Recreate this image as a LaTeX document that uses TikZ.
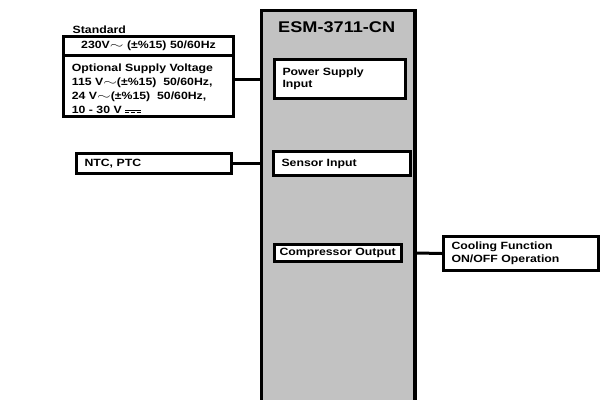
\documentclass[tikz,border=0pt]{standalone}
\usepackage{fontspec}
\usepackage{graphicx}
\setmainfont{Liberation Sans}[FakeStretch=1.17]
\definecolor{panelgray}{RGB}{194,194,194}
\newcommand{\acsign}{\scalebox{1.6}[1]{$\sim$}}
\newcommand{\dcsign}{\rlap{\rule[0.55ex]{1.5em}{0.8pt}}\rule[0.1ex]{0.4em}{0.8pt}\hspace{0.15em}\rule[0.1ex]{0.4em}{0.8pt}\hspace{0.15em}\rule[0.1ex]{0.4em}{0.8pt}}

\begin{document}
\begin{tikzpicture}[x=1pt,y=-1pt,
    box/.style={draw,line width=3pt,fill=white,align=left,inner xsep=8pt,inner ysep=0pt,
      font=\bfseries\fontsize{10.5}{12.5}\selectfont},
    txt/.style={inner sep=0pt,align=left,font=\bfseries\fontsize{10.5}{14}\selectfont},
    link/.style={line width=3pt}]
  \useasboundingbox (0,0) rectangle (604,399);
  \clip (0,0) rectangle (604,399);

  % controller body
  \node[draw,line width=3.5pt,fill=panelgray,minimum width=153.5pt,minimum height=420pt,
    anchor=north west] (esm) at (259.75,8.75) {};
  \node[anchor=base,font=\bfseries\fontsize{15.5}{18}\selectfont] (title) at (336.7,32.5) {ESM-3711-CN};

  \node[box,text width=115pt,minimum height=39pt] (supply) at (340,79) {Power Supply\\Input};
  \node[box,text width=121pt,minimum height=24pt] (sensor) at (342,163.5) {Sensor Input};
  \node[box,inner xsep=5pt,text width=117pt,minimum height=17pt] (compressor) at (338,253) {Compressor Output};

  % supply voltages
  \node[txt,anchor=base west] (stdlabel) at (72.5,33) {Standard};
  \node[box,align=center,text width=154pt,minimum height=19pt] (stdbox) at (148.5,46) {230V\acsign\ (\textpm\%15) 50/60Hz};
  \node[box,text width=154pt,minimum height=61pt] (optbox) at (148.5,86) {};
  \node[txt,anchor=north west] (optlines) at (71.7,64) {Optional Supply Voltage\\
    115 V\acsign(\textpm\%15)\ \ 50/60Hz,\\
    24 V\acsign(\textpm\%15)\ \ 50/60Hz,\\
    10 - 30 V \dcsign};

  % sensor and output
  \node[box,text width=139pt,minimum height=20pt] (ntc) at (154,163.5) {NTC, PTC};
  \node[box,text width=139pt,minimum height=34pt] (cooling) at (521,253.5) {Cooling Function\\ON/OFF Operation};

  \draw[link] (optbox.east |- supply.west) -- (esm.west |- supply.west);
  \draw[link] (ntc.east) -- (esm.west |- ntc.east);
  \draw[link] (esm.east |- compressor.east) -- (cooling.west);
\end{tikzpicture}
\end{document}
